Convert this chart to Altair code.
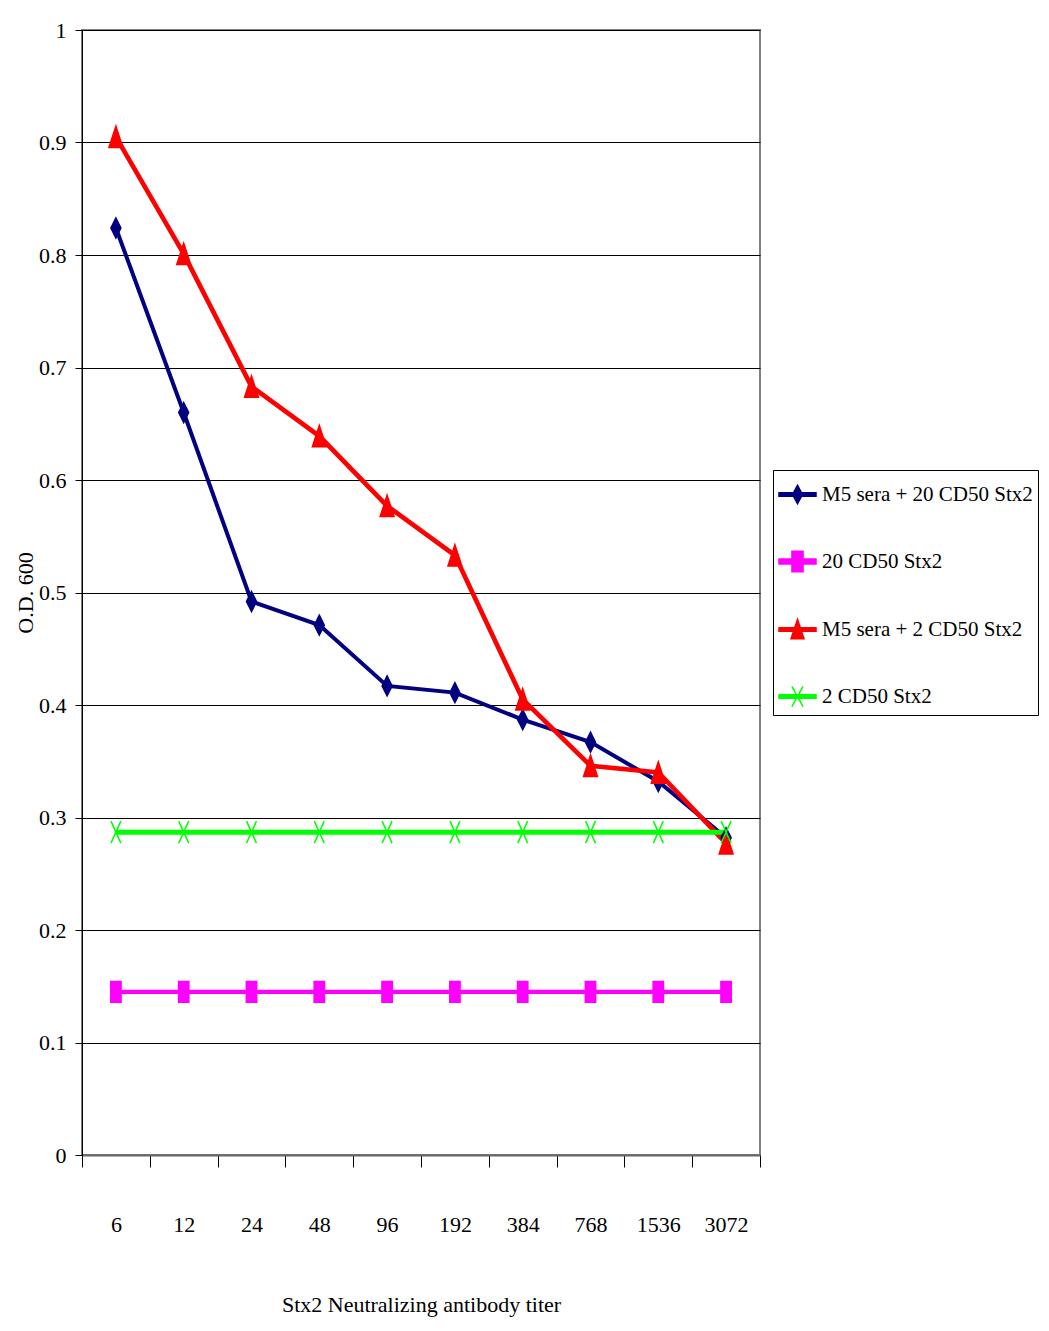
import altair as alt
import pandas as pd

titers = ["6", "12", "24", "48", "96", "192", "384", "768", "1536", "3072"]
series_names = ["M5 sera + 20 CD50 Stx2", "20 CD50 Stx2", "M5 sera + 2 CD50 Stx2", "2 CD50 Stx2"]
m5_20 = [0.824, 0.660, 0.492, 0.471, 0.417, 0.411, 0.387, 0.367, 0.332, 0.282]
cd50_20 = [0.145, 0.145, 0.145, 0.145, 0.145, 0.145, 0.145, 0.145, 0.145, 0.145]
m5_2 = [0.905, 0.801, 0.683, 0.639, 0.577, 0.533, 0.405, 0.346, 0.340, 0.277]
cd50_2 = [0.287, 0.287, 0.287, 0.287, 0.287, 0.287, 0.287, 0.287, 0.287, 0.287]
colors = ["#000080", "#FF00FF", "#FF0000", "#00FF00"]

marker_paths = [
    "M0,-1L0.5,0L0,1L-0.5,0Z",
    "M-0.5,-1H0.5V1H-0.5Z",
    "M0,-1L0.65,1L-0.65,1Z",
    "M-0.45,-1L0.45,1M0.45,-1L-0.45,1",
]
legend_paths = [
    "M-1,-0.1H1V0.1H-1ZM0,-0.5L0.27,0L0,0.5L-0.27,0Z",
    "M-1,-0.13H1V0.13H-1ZM-0.3,-0.55H0.3V0.55H-0.3Z",
    "M-1,-0.1H1V0.1H-1ZM0,-0.55L0.35,0.5L-0.35,0.5Z",
    "M-1,-0.1H1V0.1H-1ZM-0.3,-0.55L0.3,0.55M0.3,-0.55L-0.3,0.55",
]

rows = []
for name, vals in zip(series_names, [m5_20, cd50_20, m5_2, cd50_2]):
    for i, (t, v) in enumerate(zip(titers, vals)):
        rows.append({"idx": i, "titer": t, "series": name, "value": v})
df = pd.DataFrame(rows)

FONT = "Liberation Serif"

tick_vals = [i * 0.5 - 0.5 for i in range(21)]
label_arr = "[" + ",".join("'" + t + "'" for t in titers) + "]"

x = alt.X(
    "idx:Q",
    scale=alt.Scale(domain=[-0.5, 9.5], nice=False, zero=False),
    axis=alt.Axis(
        values=tick_vals,
        labelExpr=f"datum.value % 1 === 0 ? {label_arr}[datum.value] : ''",
        tickOpacity={"condition": {"test": "datum.value % 1 === 0", "value": 0}, "value": 1},
        tickSize=12,
        tickColor="black",
        tickWidth=1,
        domainColor="#666666",
        domainWidth=2,
        grid=False,
        labelOverlap=False,
        labelFlush=False,
        labelPadding=47,
        labelFont=FONT,
        labelFontSize=22,
        labelColor="black",
        title="Stx2 Neutralizing antibody titer",
        titleFont=FONT,
        titleFontSize=22,
        titleFontWeight="normal",
        titleColor="black",
        titleBaseline="top",
        titleY=139,
    ),
)
y = alt.Y(
    "value:Q",
    scale=alt.Scale(domain=[0, 1], nice=False, zero=True),
    axis=alt.Axis(
        values=[i / 10 for i in range(11)],
        format=".1~f",
        tickSize=7,
        tickColor="black",
        domainColor="black",
        domainWidth=1,
        grid=True,
        gridColor="black",
        gridWidth=1,
        gridOpacity=1,
        labelPadding=9,
        labelFont=FONT,
        labelFontSize=22,
        labelColor="black",
        title="O.D. 600",
        titleFont=FONT,
        titleFontSize=22,
        titleFontWeight="normal",
        titleColor="black",
        titleBaseline="top",
        titleX=-67,
    ),
)

base = alt.Chart(df)

lines = base.mark_line().encode(
    x=x,
    y=y,
    color=alt.Color("series:N", scale=alt.Scale(domain=series_names, range=colors), legend=None),
    strokeWidth=alt.StrokeWidth("series:N", scale=alt.Scale(domain=series_names, range=[4, 5, 4, 5]), legend=None),
)

points = base.mark_point(filled=True, opacity=1, strokeWidth=1.5).encode(
    x=x,
    y=y,
    fill=alt.Fill("series:N", scale=alt.Scale(domain=series_names, range=colors), legend=None),
    stroke=alt.Stroke("series:N", scale=alt.Scale(domain=series_names, range=colors), legend=None),
    shape=alt.Shape("series:N", scale=alt.Scale(domain=series_names, range=marker_paths), legend=None),
    size=alt.Size("series:N", scale=alt.Scale(domain=series_names, range=[400, 484, 484, 676]), legend=None),
)

leg = alt.Legend(
    title=None,
    orient="none",
    legendX=691,
    legendY=440,
    padding=5,
    strokeColor="black",
    fillColor="white",
    labelFont=FONT,
    labelFontSize=21,
    labelColor="black",
    labelLimit=400,
    labelOffset=5,
    rowPadding=35,
    symbolSize=1369,
    symbolStrokeWidth=1.5,
    symbolOpacity=1,
)

legend_layer = base.mark_point(filled=True, opacity=1, strokeWidth=1.5).encode(
    x=x,
    y=y,
    fill=alt.Fill("series:N", scale=alt.Scale(domain=series_names, range=colors), legend=leg),
    stroke=alt.Stroke("series:N", scale=alt.Scale(domain=series_names, range=colors), legend=leg),
    shape=alt.Shape("series:N", scale=alt.Scale(domain=series_names, range=legend_paths), legend=leg),
).transform_filter("false")

chart = (
    alt.layer(lines, points, legend_layer)
    .resolve_scale(fill="independent", stroke="independent", shape="independent")
    .properties(
        width=678,
        height=1125,
        autosize=alt.AutoSizeParams(type="none"),
        padding={"left": 74, "top": 22, "right": 281, "bottom": 168},
        background="white",
    )
    .configure_view(stroke="#808080", strokeWidth=2)
)

chart.save("out.html", embed_options={"renderer": "svg", "actions": False})
